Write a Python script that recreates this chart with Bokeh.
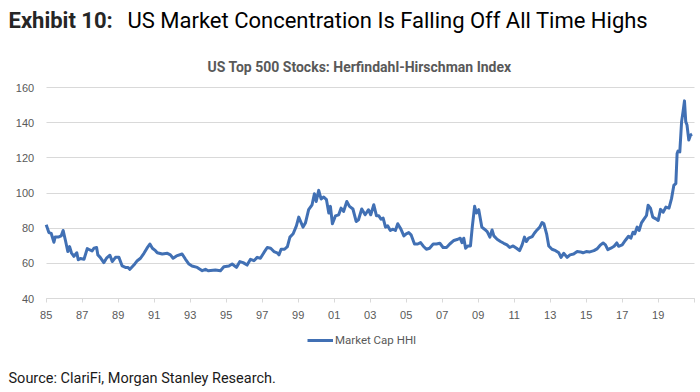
from bokeh.plotting import figure
from bokeh.models import Range1d, FixedTicker, Label, Legend, LegendItem, ColumnDataSource
from bokeh.embed import file_html
from bokeh.resources import INLINE

# ---- data (decimal year, HHI) ----
years = [
    1985.00, 1985.15, 1985.28, 1985.43, 1985.50, 1985.70, 1985.83, 1985.94, 1986.07, 1986.20,
    1986.30, 1986.40, 1986.54, 1986.70, 1986.78, 1986.90, 1987.10, 1987.28, 1987.43, 1987.55,
    1987.65, 1987.80, 1987.87, 1988.00, 1988.20, 1988.35, 1988.54, 1988.67, 1988.85, 1989.04,
    1989.22, 1989.40, 1989.54, 1989.65, 1989.87, 1990.06, 1990.24, 1990.43, 1990.60, 1990.76,
    1990.90, 1991.07, 1991.17, 1991.45, 1991.73, 1991.90, 1992.05, 1992.24, 1992.55, 1992.74,
    1992.93, 1993.10, 1993.39, 1993.67, 1993.85, 1994.00, 1994.40, 1994.68, 1994.87, 1995.15,
    1995.33, 1995.57, 1995.76, 1995.94, 1996.16, 1996.35, 1996.54, 1996.72, 1996.90, 1997.10,
    1997.28, 1997.47, 1997.65, 1997.83, 1997.93, 1998.05, 1998.24, 1998.40, 1998.54, 1998.72,
    1998.90, 1999.03, 1999.16, 1999.27, 1999.40, 1999.58, 1999.77, 1999.90, 2000.00, 2000.14,
    2000.27, 2000.42, 2000.57, 2000.70, 2000.79, 2000.90, 2001.07, 2001.25, 2001.38, 2001.52,
    2001.70, 2001.85, 2002.04, 2002.22, 2002.35, 2002.53, 2002.72, 2002.90, 2003.03, 2003.20,
    2003.35, 2003.48, 2003.60, 2003.72, 2003.85, 2003.97, 2004.12, 2004.27, 2004.40, 2004.53,
    2004.68, 2004.87, 2005.00, 2005.14, 2005.27, 2005.46, 2005.64, 2005.80, 2005.94, 2006.12,
    2006.30, 2006.50, 2006.68, 2006.87, 2007.05, 2007.24, 2007.42, 2007.65, 2007.87, 2008.00,
    2008.10, 2008.20, 2008.30, 2008.43, 2008.57, 2008.67, 2008.80, 2008.90, 2009.03, 2009.20,
    2009.35, 2009.50, 2009.65, 2009.77, 2009.87, 2010.05, 2010.24, 2010.42, 2010.60, 2010.75,
    2010.94, 2011.13, 2011.30, 2011.44, 2011.57, 2011.68, 2011.80, 2012.00, 2012.12, 2012.27,
    2012.42, 2012.55, 2012.65, 2012.80, 2012.92, 2013.10, 2013.30, 2013.48, 2013.60, 2013.75,
    2013.94, 2014.10, 2014.30, 2014.50, 2014.68, 2014.82, 2015.00, 2015.20, 2015.43, 2015.60,
    2015.80, 2015.94, 2016.07, 2016.20, 2016.37, 2016.55, 2016.70, 2016.80, 2017.00, 2017.17,
    2017.35, 2017.48, 2017.60, 2017.70, 2017.83, 2017.94, 2018.07, 2018.20, 2018.35, 2018.44,
    2018.57, 2018.70, 2018.87, 2019.00, 2019.13, 2019.28, 2019.43, 2019.60, 2019.74, 2019.87,
    2019.98, 2020.05, 2020.10, 2020.20, 2020.30, 2020.38, 2020.46, 2020.53, 2020.60, 2020.70,
    2020.80, 2020.88,
]
hhi = [
    82.0, 77.5, 77.0, 72.0, 75.0, 75.0, 75.6, 78.7, 73.0, 66.7,
    69.5, 66.0, 64.0, 66.0, 62.0, 62.7, 62.3, 68.4, 67.6, 67.0,
    68.6, 69.0, 64.8, 63.4, 60.4, 62.9, 64.6, 61.0, 63.4, 63.4,
    58.5, 57.7, 57.7, 56.6, 59.0, 61.5, 62.9, 65.7, 68.6, 71.0,
    68.6, 67.2, 66.0, 65.3, 65.7, 64.8, 62.9, 64.2, 65.3, 62.3,
    59.6, 58.5, 57.7, 55.8, 56.6, 55.8, 56.2, 55.8, 58.1, 58.5,
    59.6, 57.7, 61.0, 60.4, 59.0, 62.3, 61.5, 63.4, 62.9, 66.2,
    69.0, 68.6, 66.7, 66.0, 64.8, 68.0, 68.0, 69.5, 74.9, 76.8,
    81.3, 86.3, 83.2, 80.6, 82.9, 90.5, 93.3, 99.6, 95.2, 101.5,
    96.6, 97.7, 96.2, 88.6, 92.4, 82.5, 87.0, 87.6, 91.4, 89.5,
    95.2, 92.4, 90.9, 83.8, 84.8, 90.9, 87.6, 90.5, 87.6, 93.3,
    87.0, 87.0, 85.1, 85.7, 80.6, 81.3, 78.7, 79.4, 78.7, 82.5,
    80.0, 75.6, 76.8, 77.5, 76.2, 71.0, 71.0, 71.8, 69.9, 68.0,
    68.6, 71.0, 71.0, 71.4, 69.0, 69.0, 71.0, 73.0, 73.7, 74.3,
    71.8, 74.3, 68.6, 69.9, 69.9, 80.6, 92.4, 88.6, 90.5, 80.6,
    79.4, 78.0, 74.9, 79.0, 75.6, 73.7, 72.4, 71.4, 70.5, 69.0,
    69.9, 68.6, 67.2, 70.5, 74.9, 72.4, 74.3, 75.2, 77.1, 79.0,
    80.6, 83.2, 82.5, 76.8, 69.9, 68.0, 67.2, 66.0, 63.4, 65.7,
    63.4, 64.8, 65.3, 66.7, 66.5, 66.0, 66.7, 66.5, 67.2, 68.2,
    70.5, 71.6, 70.5, 67.8, 68.6, 69.7, 71.6, 69.7, 70.5, 73.0,
    75.4, 74.3, 77.7, 76.8, 80.6, 78.7, 83.0, 85.0, 87.2, 93.0,
    91.4, 86.3, 85.3, 84.4, 90.7, 89.1, 92.0, 91.4, 96.8, 104.4,
    105.3, 122.5, 123.8, 123.4, 140.6, 146.3, 152.4, 140.6, 138.7, 130.1,
    133.0, 133.5,
]
tick_years = list(range(1985, 2022, 2))
tick_labels = ["85", "87", "89", "91", "93", "95", "97", "99", "01", "03",
               "05", "07", "09", "11", "13", "15", "17", "19", ""]
y_ticks = [40, 60, 80, 100, 120, 140, 160]

title_bold = "Exhibit 10:"
title_rest = "US Market Concentration Is Falling Off All Time Highs"
subtitle = "US Top 500 Stocks: Herfindahl-Hirschman Index"
series_name = "Market Cap HHI"
source_text = "Source: ClariFi, Morgan Stanley Research."

# ---- layout geometry (pixels) ----
W, H = 700, 392
X0_PX, X1_PX = 45.7, 693.7        # plot area left / right
Y0_PX, Y1_PX = 298.0, 87.0        # plot area bottom / top (from top of page)
XMIN, XMAX = 1985, 2021
YMIN, YMAX = 40, 160
kx = (X1_PX - X0_PX) / (XMAX - XMIN)
ky = (Y0_PX - Y1_PX) / (YMAX - YMIN)
x_range = Range1d(XMIN - X0_PX / kx, XMIN + (W - X0_PX) / kx)
y_range = Range1d(YMIN - (H - Y0_PX) / ky, YMAX + Y1_PX / ky)

FONT = "Roboto"
GREY = "#595959"
BLUE = "#4170B4"
GRID = "#D9D9D9"


def sy(y_top):
    return H - y_top


p = figure(width=W, height=H, output_backend="svg", toolbar_location=None,
           x_range=x_range, y_range=y_range, min_border=0)
p.outline_line_color = None

src = ColumnDataSource(dict(x=years, y=hhi))

# grid lines limited to the plot area
try:
    p.ygrid.cross_bounds = (XMIN, XMAX)
    p.ygrid.bounds = (YMIN, YMAX)
    p.ygrid.grid_line_color = GRID
except AttributeError:
    p.ygrid.grid_line_color = None
    p.segment(x0=[XMIN] * len(y_ticks), x1=[XMAX] * len(y_ticks), y0=y_ticks, y1=y_ticks,
              line_color=GRID, line_width=1)
p.xgrid.grid_line_color = None

r = p.line("x", "y", source=src, line_color=BLUE, line_width=3, line_join="round")

xa = p.xaxis[0]
xa.fixed_location = YMIN
xa.bounds = (XMIN, XMAX)
xa.ticker = FixedTicker(ticks=tick_years)
xa.major_label_overrides = {t: l for t, l in zip(tick_years, tick_labels)}
xa.axis_line_color = GRID
xa.major_tick_line_color = GRID
xa.major_tick_in = 0
xa.major_tick_out = 4
xa.minor_tick_line_color = None
xa.major_label_standoff = 8
xa.major_label_text_font = "Liberation Sans"
xa.major_label_text_font_size = "11px"
xa.major_label_text_color = GREY

ya = p.yaxis[0]
ya.fixed_location = XMIN
ya.bounds = (YMIN, YMAX)
ya.ticker = FixedTicker(ticks=y_ticks)
ya.axis_line_color = None
ya.major_tick_line_color = None
ya.minor_tick_line_color = None
ya.major_label_standoff = 6
ya.major_label_text_font = "Liberation Sans"
ya.major_label_text_font_size = "11px"
ya.major_label_text_color = GREY

# texts
p.add_layout(Label(x=8, y=sy(20), x_units="screen", y_units="screen", text=title_bold,
                   text_font=FONT, text_font_style="bold", text_font_size="22px",
                   text_color="#262626", text_baseline="middle", text_align="left"))
p.add_layout(Label(x=127, y=sy(20), x_units="screen", y_units="screen", text=title_rest,
                   text_font=FONT, text_font_size="22px", text_color="#000000",
                   text_baseline="middle", text_align="left"))
p.add_layout(Label(x=359, y=sy(66), x_units="screen", y_units="screen", text=subtitle,
                   text_font=FONT, text_font_style="bold", text_font_size="14px",
                   text_color=GREY, text_baseline="middle", text_align="center"))
p.add_layout(Label(x=8, y=sy(378), x_units="screen", y_units="screen", text=source_text,
                   text_font=FONT, text_font_size="14.5px", text_color="#1a1a1a",
                   text_baseline="middle", text_align="left"))

legend = Legend(items=[LegendItem(label=series_name, renderers=[r])],
                location=(307, int(sy(347))), orientation="horizontal",
                border_line_color=None, background_fill_alpha=0,
                label_text_font=FONT, label_text_font_size="11.5px",
                label_text_color=GREY, glyph_width=26, glyph_height=12,
                label_height=12, label_standoff=2, padding=0, margin=0, spacing=0)
p.add_layout(legend, "center")

open("out.html", "w").write(file_html(p, INLINE))
